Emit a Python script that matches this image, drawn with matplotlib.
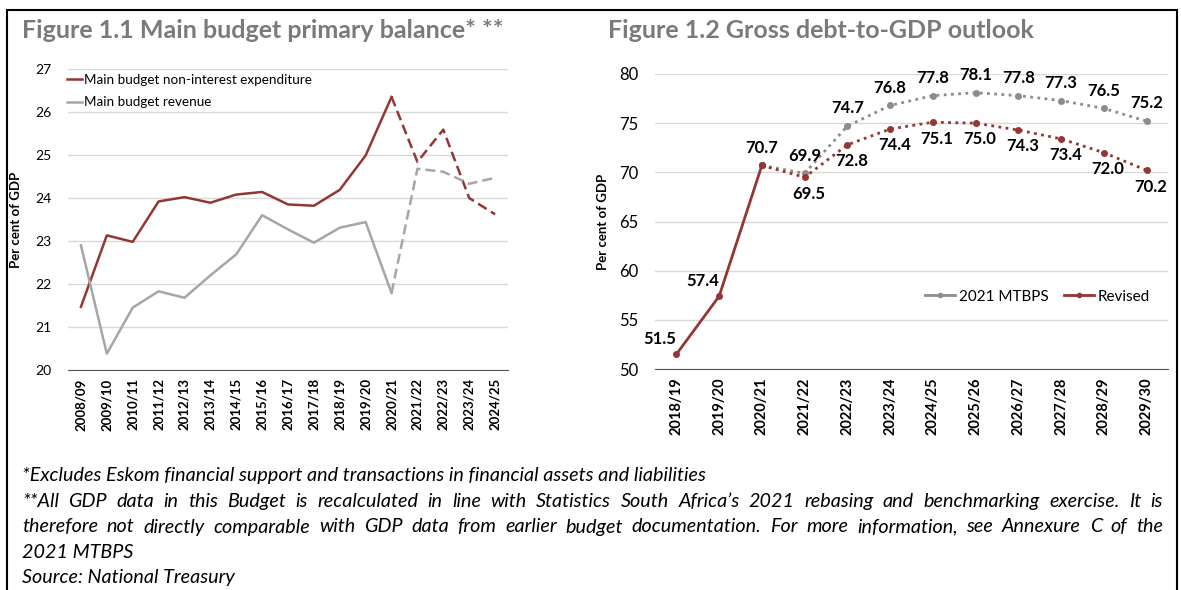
import matplotlib.pyplot as plt
from matplotlib.patches import Rectangle

plt.rcParams['font.family'] = ['Lato', 'DejaVu Sans']

# Figure 1.1 data
years_1 = ["2008/09", "2009/10", "2010/11", "2011/12", "2012/13", "2013/14",
           "2014/15", "2015/16", "2016/17", "2017/18", "2018/19", "2019/20",
           "2020/21", "2021/22", "2022/23", "2023/24", "2024/25"]
expenditure = [21.47, 23.13, 22.98, 23.92, 24.02, 23.89, 24.08, 24.14, 23.85,
               23.82, 24.19, 24.99, 26.35, 24.84, 25.59, 24.00, 23.62]
revenue = [22.90, 20.38, 21.45, 21.83, 21.68, 22.20, 22.69, 23.60, 23.27,
           22.96, 23.31, 23.44, 21.79, 24.68, 24.61, 24.33, 24.47]
split_1 = 12  # last outturn year (2020/21), dashed after

# Figure 1.2 data
years_2 = ["2018/19", "2019/20", "2020/21", "2021/22", "2022/23", "2023/24",
           "2024/25", "2025/26", "2026/27", "2027/28", "2028/29", "2029/30"]
mtbps = [None, None, 70.7, 69.9, 74.7, 76.8, 77.8, 78.1, 77.8, 77.3, 76.5, 75.2]
revised = [51.5, 57.4, 70.7, 69.5, 72.8, 74.4, 75.1, 75.0, 74.3, 73.4, 72.0, 70.2]
split_2 = 2

notes = [
    "*Excludes Eskom financial support and transactions in financial assets and liabilities",
    "**All GDP data in this Budget is recalculated in line with Statistics South Africa\u2019s 2021 rebasing and benchmarking exercise. It is",
    "therefore not directly comparable with GDP data from earlier budget documentation. For more information, see Annexure C of the",
    "2021 MTBPS",
    "Source: National Treasury",
]
justified = [False, True, True, False, False]

RED = "#943634"
GREY = "#a6a6a6"
MGREY = "#8c8c8c"
TITLE = "#7a7a7a"
GRID = "#d9d9d9"

W, H = 1181, 590
fig = plt.figure(figsize=(11.81, 5.90), dpi=100)
fig.patches.append(Rectangle((7 / W, -0.1), 1170 / W, 1.1 - 10 / H,
                             transform=fig.transFigure, fill=False,
                             edgecolor="black", linewidth=1.5))


def style_axes(ax, n, labels, xsize):
    ax.set_xlim(-0.5, n - 0.5)
    ax.set_xticks(range(n))
    ax.set_xticklabels(labels, rotation=90, fontweight="bold", fontsize=xsize)
    ax.tick_params(axis="x", length=0, pad=6)
    ax.tick_params(axis="y", length=0, pad=12)
    ax.grid(axis="y", color=GRID, linewidth=1)
    ax.set_axisbelow(True)
    for s in ["top", "right", "left"]:
        ax.spines[s].set_visible(False)
    ax.spines["bottom"].set_color("#595959")
    ax.set_ylabel("Per cent of GDP", fontweight="bold", fontsize=9.5)


# ---- Figure 1.1 ----
ax1 = fig.add_axes([68 / W, 1 - 370 / H, 440 / W, 301 / H])
x1 = list(range(len(years_1)))
ax1.plot(x1[:split_1 + 1], expenditure[:split_1 + 1], color=RED, lw=1.8,
         label="Main budget non-interest expenditure")
ax1.plot(x1[split_1:], expenditure[split_1:], color=RED, lw=1.8, ls=(0, (4, 2)))
ax1.plot(x1[:split_1 + 1], revenue[:split_1 + 1], color=GREY, lw=1.8,
         label="Main budget revenue")
ax1.plot(x1[split_1:], revenue[split_1:], color=GREY, lw=1.8, ls=(0, (4, 2)))
ax1.set_ylim(20, 27)
ax1.set_yticks(range(20, 28))
ax1.tick_params(axis="y", labelsize=10)
style_axes(ax1, len(years_1), years_1, 9.5)
ax1.yaxis.set_label_coords(-0.105, 0.5)
ax1.legend(loc="upper left", bbox_to_anchor=(-0.03, 1.025), frameon=False,
           fontsize=9.7, handlelength=1.1, handletextpad=0.15, labelspacing=0.8)

fig.text(22 / W, 1 - 30 / H, "Figure 1.1 Main budget primary balance* **",
         fontsize=18, fontweight="bold", color=TITLE, va="center")

# ---- Figure 1.2 ----
ax2 = fig.add_axes([655 / W, 1 - 369 / H, 513 / W, 295 / H])
x2 = list(range(len(years_2)))
mx = [i for i, v in enumerate(mtbps) if v is not None]
my = [mtbps[i] for i in mx]
ax2.plot(mx, my, color=MGREY, lw=2, ls=(0, (1, 1.6)), marker="o", ms=4)
ax2.plot(x2[:split_2 + 1], revised[:split_2 + 1], color=RED, lw=2,
         marker="o", ms=4)
ax2.plot(x2[split_2:], revised[split_2:], color=RED, lw=2, ls=(0, (1, 1.6)),
         marker="o", ms=4)
# legend handles
ax2.plot([], [], color=MGREY, lw=2, marker="o", ms=3, label="2021 MTBPS")
ax2.plot([], [], color=RED, lw=2, marker="o", ms=3, label="Revised")
ax2.set_ylim(50, 80)
ax2.set_yticks(range(50, 81, 5))
ax2.tick_params(axis="y", labelsize=12)
style_axes(ax2, len(years_2), years_2, 10.5)
ax2.yaxis.set_label_coords(-0.09, 0.5)
ax2.legend(loc="center", bbox_to_anchor=(0.745, 0.245), ncol=2, frameon=False,
           fontsize=11, handlelength=2.0, handletextpad=0.2, columnspacing=1.0)

lab = dict(fontsize=12, fontweight="bold", ha="center", color="black")
for i in mx[1:]:
    ax2.annotate(f"{mtbps[i]:.1f}", (i, mtbps[i]), xytext=(0, 7),
                 textcoords="offset points", va="bottom", **lab)
ax2.annotate(f"{revised[2]:.1f}", (2, revised[2]), xytext=(0, 7),
             textcoords="offset points", va="bottom", **lab)
for i in (0, 1):
    ax2.annotate(f"{revised[i]:.1f}", (i, revised[i]), xytext=(-12, 5),
                 textcoords="offset points", va="bottom", **lab)
for i in x2[3:]:
    ax2.annotate(f"{revised[i]:.1f}", (i, revised[i]), xytext=(3, -6),
                 textcoords="offset points", va="top", **lab)

fig.text(608 / W, 1 - 30 / H, "Figure 1.2 Gross debt-to-GDP outlook",
         fontsize=18, fontweight="bold", color=TITLE, va="center")

# ---- notes (lines 2-3 justified like the source) ----
renderer = fig.canvas.get_renderer()
left, right = 22 / W, 1163 / W
note_style = dict(fontsize=14.2, style="italic", va="center")
for k, line in enumerate(notes):
    y = 1 - (476 + 25.5 * k) / H
    if not justified[k]:
        fig.text(left, y, line, **note_style)
        continue
    words = line.split(" ")
    texts = [fig.text(0, y, w_, **note_style) for w_ in words]
    widths = [t.get_window_extent(renderer).width / W for t in texts]
    gap = (right - left - sum(widths)) / (len(words) - 1)
    xpos = left
    for t, wd in zip(texts, widths):
        t.set_x(xpos)
        xpos += wd + gap

fig.savefig("out.png", dpi=100)
